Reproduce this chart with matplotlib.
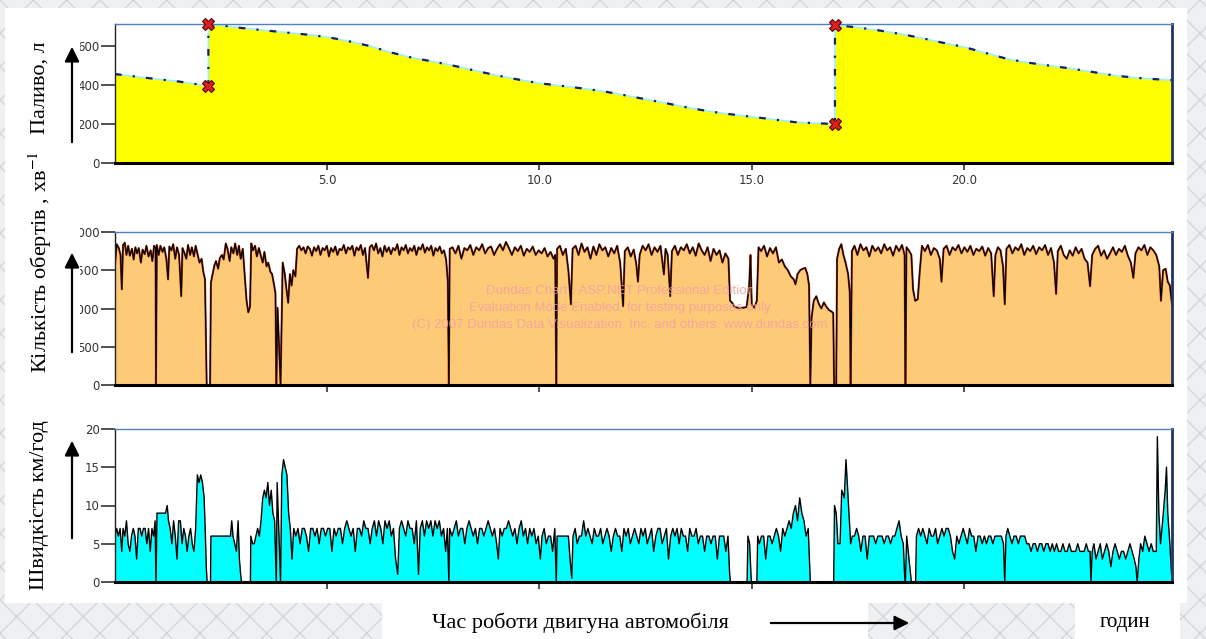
import matplotlib.pyplot as plt
import numpy as np
from matplotlib.patches import Rectangle, FancyArrowPatch
from matplotlib.transforms import Bbox

plt.rcParams['mathtext.fontset'] = 'stix'

# ---- data (hours) ----
fuel_hours = [0, 0.5, 1.0, 1.5, 2.0, 2.2, 2.2, 2.6, 3.0, 3.5, 4.0, 4.5, 5.0, 5.5, 6.0,
              6.5, 7.0, 7.5, 8.0, 8.5, 9.0, 9.5, 10.0, 10.5, 11.0, 11.5, 12.0, 12.5,
              13.0, 13.5, 14.0, 14.5, 15.0, 15.5, 16.0, 16.5, 16.96, 16.96, 17.5,
              18.0, 18.5, 19.0, 19.5, 20.0, 20.5, 21.0, 21.5, 22.0, 22.5, 23.0, 23.5,
              24.0, 24.5, 24.9]
fuel_litres = [456, 443, 430, 418, 402, 395, 713, 703, 692, 681, 670, 659, 646, 625, 600,
               567, 540, 520, 498, 473, 449, 428, 409, 396, 383, 368, 348, 327,
               306, 284, 265, 250, 237, 224, 210, 204, 200, 708, 695,
               680, 662, 641, 617, 595, 565, 535, 515, 500, 485, 468, 450,
               438, 430, 425]
refuel_hours = [2.2, 2.2, 16.96, 16.96]
refuel_litres = [395, 713, 200, 708]

rpm_hours = [
    0.00, 0.04, 0.09, 0.13, 0.16, 0.19, 0.23, 0.27, 0.31, 0.35, 0.40, 0.44, 0.48, 0.52,
    0.56, 0.61, 0.65, 0.70, 0.74, 0.79, 0.84, 0.88, 0.92, 0.955, 0.965, 0.985,
    1.03, 1.07, 1.12, 1.16, 1.21, 1.25, 1.28, 1.33, 1.37, 1.42, 1.46, 1.51, 1.56, 1.59,
    1.64, 1.68, 1.72, 1.77, 1.81, 1.86, 1.90, 1.95, 1.99, 2.04, 2.08, 2.12, 2.16, 2.24,
    2.26,
    2.30, 2.34, 2.38, 2.43, 2.47, 2.52, 2.56, 2.61, 2.65, 2.70, 2.74, 2.79, 2.83, 2.88,
    2.92, 2.96, 3.01, 3.06, 3.10, 3.14, 3.18, 3.21, 3.25, 3.30, 3.34, 3.39, 3.43, 3.48,
    3.52, 3.57, 3.61, 3.66, 3.70, 3.75, 3.78, 3.80, 3.83, 3.90, 3.95,
    4.00, 4.04, 4.08, 4.12, 4.16, 4.20, 4.25, 4.29, 4.34, 4.39, 4.44, 4.49, 4.54, 4.59,
    4.64, 4.69, 4.74, 4.79, 4.84, 4.89, 4.94, 4.99, 5.04, 5.09, 5.14, 5.19, 5.24, 5.29,
    5.34, 5.39, 5.44, 5.49, 5.54, 5.59, 5.64, 5.69, 5.74, 5.79, 5.84, 5.89, 5.96, 6.00,
    6.05, 6.10, 6.15, 6.20, 6.25, 6.30, 6.35, 6.40, 6.45, 6.50, 6.55, 6.60, 6.65, 6.70,
    6.75, 6.80, 6.85, 6.90, 6.95, 7.00, 7.05, 7.10, 7.15, 7.20, 7.25, 7.30, 7.35, 7.40,
    7.45, 7.50, 7.55, 7.60, 7.65, 7.70, 7.75, 7.80, 7.84, 7.865, 7.885,
    7.95, 8.02, 8.09, 8.16, 8.23, 8.30, 8.37, 8.44, 8.51, 8.58, 8.65, 8.72, 8.79, 8.86,
    8.93, 9.00, 9.07, 9.14, 9.21, 9.28, 9.35, 9.42, 9.49, 9.56, 9.63, 9.70, 9.77, 9.84,
    9.91, 9.98, 10.05, 10.12, 10.19, 10.26, 10.33, 10.37, 10.395, 10.415,
    10.48, 10.55, 10.62, 10.68, 10.74, 10.78, 10.85, 10.92, 10.99, 11.06, 11.13, 11.20,
    11.27, 11.34, 11.41, 11.48, 11.55, 11.62, 11.69, 11.76, 11.83, 11.90, 11.97, 12.01,
    12.08, 12.15, 12.22, 12.28, 12.32, 12.36, 12.43,
    12.50, 12.57, 12.64, 12.71, 12.78, 12.85, 12.93, 12.97, 13.02, 13.08, 13.12, 13.19,
    13.26, 13.33, 13.40, 13.47, 13.54, 13.61, 13.68, 13.75, 13.82, 13.89, 13.96, 14.03,
    14.10, 14.17, 14.24, 14.31, 14.38, 14.45, 14.49,
    14.53, 14.60, 14.67, 14.74, 14.81, 14.88, 14.94, 14.97, 15.00, 15.06, 15.12, 15.16,
    15.22, 15.29, 15.36, 15.43, 15.50, 15.57, 15.64, 15.71, 15.78, 15.85, 15.92, 15.99,
    16.03, 16.08, 16.14, 16.20, 16.26, 16.31, 16.35, 16.38, 16.41, 16.46, 16.52, 16.58,
    16.64, 16.70, 16.76, 16.82, 16.88, 16.92, 16.94, 16.99, 17.01, 17.06, 17.11, 17.16,
    17.21, 17.27, 17.31, 17.33, 17.36,
    17.42, 17.49, 17.56, 17.63, 17.70, 17.77, 17.84, 17.91, 17.98, 18.05, 18.12, 18.19,
    18.26, 18.33, 18.40, 18.47, 18.54, 18.60, 18.62, 18.645,
    18.70, 18.76, 18.80, 18.85, 18.91, 18.96, 19.01, 19.08, 19.15, 19.22, 19.29, 19.36,
    19.43, 19.47, 19.52, 19.59, 19.66, 19.73, 19.80, 19.87, 19.94, 20.01, 20.08, 20.15,
    20.22, 20.29, 20.36, 20.43, 20.50, 20.57, 20.64, 20.70, 20.74, 20.80, 20.86, 20.92,
    20.96, 21.00, 21.07, 21.14, 21.21, 21.28, 21.35, 21.42, 21.49, 21.56, 21.63, 21.70,
    21.77, 21.84, 21.91, 21.98, 22.05, 22.12, 22.17, 22.21, 22.28, 22.35, 22.42, 22.49,
    22.56, 22.63, 22.70, 22.77, 22.84, 22.91, 22.97, 23.02, 23.09, 23.16, 23.23, 23.30,
    23.37, 23.44, 23.51, 23.58, 23.65, 23.72, 23.79, 23.86, 23.93, 23.99, 24.04, 24.11,
    24.18, 24.25, 24.32, 24.39, 24.46, 24.53, 24.60, 24.64, 24.69, 24.75, 24.80, 24.85,
    24.90]
rpm_values = [
    1570, 1840, 1790, 1700, 1250, 1830, 1860, 1700, 1820, 1690, 1780, 1640, 1800, 1720,
    1790, 1600, 1770, 1710, 1820, 1680, 1760, 1620, 1820, 1790, 0, 1830,
    1700, 1820, 1740, 1800, 1650, 1380, 1810, 1760, 1840, 1650, 1800, 1700, 1160, 1790,
    1720, 1650, 1830, 1700, 1800, 1680, 1820, 1700, 1600, 1650, 1480, 1380, 0, 0,
    1340,
    1450, 1560, 1620, 1520, 1660, 1700, 1640, 1850, 1780, 1620, 1800, 1720, 1850, 1700,
    1820, 1650, 1780, 1400, 1100, 950, 1020, 1850, 1760, 1820, 1680, 1790, 1700, 1600,
    1740, 1550, 1600, 1480, 1450, 1300, 1200, 0, 1010, 0, 1600,
    1450, 1250, 1075, 1450, 1300, 1500, 1420, 1780, 1820, 1760, 1800, 1720, 1810, 1780,
    1690, 1800, 1750, 1820, 1700, 1790, 1760, 1820, 1680, 1790, 1740, 1810, 1700, 1780,
    1760, 1830, 1720, 1800, 1770, 1820, 1690, 1800, 1760, 1830, 1700, 1790, 1400, 1800,
    1830, 1760, 1850, 1720, 1790, 1680, 1820, 1740, 1800, 1710, 1790, 1760, 1840, 1700,
    1800, 1760, 1830, 1720, 1790, 1750, 1820, 1700, 1800, 1770, 1840, 1730, 1800, 1760,
    1820, 1690, 1790, 1750, 1810, 1720, 1760, 1640, 1360, 0, 1780,
    1800, 1720, 1820, 1650, 1790, 1760, 1830, 1700, 1800, 1760, 1840, 1720, 1790, 1810,
    1700, 1780, 1840, 1760, 1870, 1790, 1700, 1800, 1750, 1820, 1690, 1780, 1740, 1810,
    1700, 1760, 1720, 1790, 1680, 1740, 1650, 1700, 0, 1780,
    1820, 1700, 1780, 1500, 1055, 1780, 1820, 1700, 1850, 1740, 1800, 1650,
    1810, 1700, 1840, 1760, 1800, 1680, 1790, 1720, 1820, 1600, 1030, 1750,
    1800, 1680, 1770, 1580, 1350, 1700, 1820,
    1760, 1840, 1700, 1800, 1740, 1820, 1445, 1780, 1700, 1160, 1750, 1820,
    1700, 1800, 1760, 1840, 1720, 1800, 1690, 1850, 1760, 1700, 1800, 1620,
    1780, 1700, 1760, 1600, 1720, 1650, 1100,
    1080, 1020, 1010, 1010, 1010, 1020, 1300, 1700, 1050, 1010, 1100, 1800,
    1750, 1820, 1680, 1790, 1720, 1800, 1600, 1640, 1550, 1500, 1420, 1380,
    1315, 1450, 1500, 1520, 1530, 1450, 1300, 0, 880, 1100, 1160, 1060,
    1000, 1080, 1020, 980, 960, 940, 0, 0, 1650, 1780, 1840, 1700,
    1600, 1450, 1200, 0, 1750,
    1820, 1700, 1840, 1760, 1800, 1680, 1820, 1750, 1800, 1720, 1840, 1760,
    1800, 1690, 1820, 1750, 1830, 1700, 0, 1800,
    1760, 1700, 1250, 1100, 1120, 1500, 1820, 1750, 1830, 1700, 1790, 1760,
    1650, 1350, 1780, 1820, 1700, 1800, 1760, 1830, 1720, 1800, 1740, 1820,
    1700, 1780, 1750, 1810, 1690, 1790, 1720, 1160, 1700, 1800, 1760, 1550,
    1055, 1780, 1830, 1720, 1800, 1760, 1840, 1700, 1790, 1750, 1820, 1710,
    1800, 1760, 1830, 1700, 1790, 1600, 1190, 1750, 1820, 1700, 1650, 1760,
    1690, 1800, 1720, 1780, 1650, 1600, 1290, 1700, 1780, 1820, 1690, 1760,
    1650, 1720, 1800, 1700, 1780, 1740, 1820, 1690, 1600, 1400, 1720, 1800,
    1760, 1830, 1700, 1800, 1760, 1700, 1550, 1100, 1500, 1520, 1350, 1300,
    1050]

speed_hours = [
    0.00, 0.04, 0.08, 0.12, 0.16, 0.19, 0.23, 0.27, 0.31, 0.35, 0.39, 0.43, 0.47, 0.51,
    0.55, 0.59, 0.63, 0.67, 0.71, 0.75, 0.79, 0.83, 0.87, 0.91, 0.945, 0.965, 0.99,
    1.05, 1.12, 1.19, 1.23, 1.26, 1.30, 1.34, 1.38, 1.42, 1.46, 1.50, 1.54, 1.58, 1.62,
    1.66, 1.70, 1.74, 1.78, 1.82, 1.86, 1.90, 1.94, 1.98, 2.02, 2.06, 2.10, 2.13, 2.15,
    2.17, 2.25, 2.26, 2.72, 2.75, 2.78, 2.82, 2.86, 2.90, 2.93, 2.96, 2.98, 3.19, 3.20,
    3.24, 3.28, 3.32, 3.36, 3.40, 3.44, 3.48, 3.52, 3.56, 3.60, 3.64, 3.68, 3.72, 3.76,
    3.80, 3.82, 3.90, 3.93, 3.97, 4.01, 4.05, 4.09, 4.13, 4.17,
    4.21, 4.26, 4.31, 4.36, 4.41, 4.46, 4.51, 4.56, 4.61, 4.66, 4.71, 4.76, 4.81, 4.86,
    4.91, 4.96, 5.01, 5.06, 5.11, 5.16, 5.21, 5.26, 5.31, 5.36, 5.41, 5.46, 5.51, 5.56,
    5.61, 5.66, 5.71, 5.76, 5.81, 5.86, 5.91, 5.96, 6.01, 6.06, 6.11, 6.16, 6.21, 6.26,
    6.31, 6.36, 6.41, 6.46, 6.51, 6.56, 6.61, 6.66, 6.70, 6.75, 6.80, 6.85, 6.90, 6.95,
    7.00, 7.05, 7.10, 7.15, 7.19, 7.24, 7.29, 7.34, 7.39, 7.44, 7.49, 7.54, 7.59, 7.64,
    7.69, 7.74, 7.79, 7.83, 7.865, 7.885,
    7.94, 7.99, 8.04, 8.09, 8.14, 8.19, 8.24, 8.29, 8.34, 8.39, 8.44, 8.49, 8.54, 8.59,
    8.64, 8.69, 8.74, 8.79, 8.84, 8.89, 8.94, 8.99, 9.03, 9.07, 9.12, 9.17, 9.22, 9.27,
    9.32, 9.37, 9.42, 9.47, 9.52, 9.57, 9.62, 9.67, 9.72, 9.77, 9.82, 9.87, 9.92, 9.97,
    10.02, 10.06, 10.11, 10.16, 10.21, 10.26, 10.31, 10.36, 10.395, 10.415,
    10.68, 10.72, 10.76, 10.79, 10.84, 10.89, 10.94, 10.99, 11.04, 11.09, 11.14, 11.19,
    11.24, 11.29, 11.34, 11.39, 11.44, 11.49, 11.54, 11.59, 11.64, 11.69, 11.74, 11.79,
    11.84, 11.89, 11.94, 11.99, 12.04, 12.09, 12.14, 12.19, 12.24, 12.29, 12.34, 12.39,
    12.44, 12.49, 12.54, 12.59, 12.64, 12.69, 12.74, 12.79, 12.84, 12.89, 12.94, 12.99,
    13.04, 13.09, 13.14, 13.19, 13.24, 13.29, 13.34, 13.39, 13.44, 13.49, 13.54, 13.59,
    13.64, 13.69, 13.74, 13.79, 13.84, 13.89, 13.94, 13.99, 14.04, 14.09, 14.14, 14.19,
    14.24, 14.29, 14.34, 14.39, 14.44, 14.48, 14.50, 14.89, 14.91, 14.95, 14.99, 15.12,
    15.14,
    15.18, 15.23, 15.28, 15.33, 15.38, 15.43, 15.48, 15.53, 15.58, 15.63, 15.68, 15.73,
    15.78, 15.83, 15.88, 15.93, 15.98, 16.03, 16.08, 16.13, 16.18, 16.23, 16.28, 16.33,
    16.38, 16.93, 16.95, 16.99, 17.03, 17.08, 17.12, 17.18, 17.22, 17.26, 17.30, 17.33,
    17.37, 17.42, 17.47, 17.52, 17.57, 17.62, 17.67, 17.72, 17.77, 17.82, 17.87, 17.92,
    17.97, 18.02, 18.07, 18.12, 18.17, 18.22, 18.27, 18.32, 18.37, 18.42, 18.47, 18.52,
    18.57, 18.60, 18.62, 18.65, 18.76, 18.86, 18.88,
    18.93, 18.98, 19.03, 19.08, 19.13, 19.18, 19.23, 19.28, 19.33, 19.38, 19.43, 19.48,
    19.53, 19.58, 19.63, 19.68, 19.73, 19.78, 19.83, 19.88, 19.93, 19.98, 20.03, 20.08,
    20.13, 20.18, 20.23, 20.28, 20.33, 20.38, 20.43, 20.48, 20.53, 20.58, 20.63, 20.68,
    20.73, 20.78, 20.83, 20.88, 20.93, 20.96, 20.99,
    21.03, 21.08, 21.13, 21.18, 21.23, 21.28, 21.33, 21.38, 21.43, 21.48, 21.53, 21.58,
    21.63, 21.68, 21.73, 21.78, 21.83, 21.88, 21.93, 21.98, 22.03, 22.08, 22.13, 22.18,
    22.23, 22.28, 22.33, 22.38, 22.43, 22.48, 22.53, 22.58, 22.63, 22.68, 22.73, 22.78,
    22.83, 22.88, 22.93, 22.97, 22.99, 23.02, 23.06, 23.11, 23.16, 23.21, 23.26, 23.31,
    23.36, 23.41, 23.46, 23.51, 23.56, 23.61, 23.66, 23.71, 23.76, 23.81, 23.86, 23.91,
    23.96, 24.01, 24.05, 24.08, 24.12, 24.16, 24.21, 24.26, 24.31, 24.36, 24.41, 24.46,
    24.50, 24.53, 24.555, 24.59, 24.63, 24.68, 24.74, 24.77, 24.80, 24.85, 24.89]
speed_values = [
    6, 7, 6, 7, 4, 7, 6, 8, 5, 4, 6, 7, 6, 3,
    7, 7, 6, 7, 7, 5, 7, 4, 7, 6, 8, 0, 9,
    9, 9, 9, 10, 8, 7, 5, 8, 6, 3, 8, 8, 5, 7,
    6, 4, 6, 7, 5, 4, 7, 14, 13, 14, 13, 11, 6, 2,
    0, 0, 6, 6, 8, 6, 5, 4, 8, 3, 1, 0, 0, 6,
    5, 5, 6, 7, 6, 8, 11, 12, 11, 13, 10, 12, 9, 8,
    0, 13, 0, 14, 16, 15, 14, 9, 7, 3,
    7, 6, 7, 5, 7, 7, 6, 4, 7, 7, 6, 7, 5, 7,
    7, 6, 7, 7, 4, 7, 6, 7, 7, 5, 7, 8, 7, 6,
    7, 4, 7, 7, 6, 8, 7, 7, 5, 7, 8, 6, 8, 7,
    5, 8, 7, 8, 6, 7, 3, 1, 7, 8, 7, 6, 8, 7,
    7, 5, 8, 1, 7, 8, 6, 8, 7, 8, 6, 8, 7, 8,
    6, 7, 4, 7, 0, 7,
    6, 7, 8, 6, 7, 7, 5, 7, 8, 7, 6, 7, 5, 7,
    7, 6, 7, 8, 7, 6, 7, 5, 3, 7, 6, 7, 7, 8,
    7, 6, 7, 5, 7, 8, 6, 7, 5, 7, 6, 7, 5, 6,
    3, 6, 7, 5, 6, 6, 4, 7, 0, 6,
    6, 3, 0.5, 6, 7, 5, 6, 6, 8, 6, 7, 6,
    5, 7, 6, 6, 7, 5, 6, 7, 6, 4, 6, 7,
    6, 6, 4, 7, 6, 7, 5, 6, 7, 6, 5, 7,
    6, 7, 5, 6, 7, 4, 6, 7, 7, 5, 6, 7,
    3, 6, 7, 6, 7, 5, 7, 6, 6, 4, 7, 6,
    6, 7, 5, 6, 6, 4, 6, 6, 5, 6, 6, 3,
    6, 6, 6, 4, 6, 1, 0, 0, 6, 5, 0, 0,
    6,
    5, 6, 6, 3, 6, 6, 5, 6, 7, 6, 4, 7,
    6, 7, 8, 7, 9, 10, 8, 11, 9, 8, 6, 7,
    0, 0, 10, 9, 5, 5, 12, 11, 16, 12, 8, 5,
    6, 6, 7, 6, 4, 6, 6, 3, 6, 6, 6, 5,
    6, 6, 6, 5, 6, 6, 5, 6, 6, 7, 8, 6,
    5, 1, 0, 6, 0, 0, 6,
    7, 6, 7, 6, 5, 7, 6, 6, 7, 5, 6, 7,
    6, 7, 7, 6, 4, 3, 6, 5, 6, 7, 6, 5,
    7, 6, 6, 4, 6, 6, 5, 6, 5, 6, 6, 5,
    6, 6, 6, 6, 5, 0, 6,
    7, 6, 5, 6, 6, 5, 6, 6, 6, 5, 5, 4,
    5, 5, 4, 5, 5, 4, 5, 5, 4, 5, 4, 5,
    4, 4, 5, 4, 4, 5, 4, 4, 4, 5, 4, 4,
    4, 5, 4, 4, 0, 4, 5, 3, 4, 5, 3, 4,
    5, 4, 2, 4, 5, 4, 3, 4, 4, 3, 4, 5,
    4, 3, 2, 0, 3, 5, 4, 6, 5, 4, 5, 4,
    4, 4, 19, 9, 5, 8, 12, 15, 9, 5, 1]

x_ticks = [5, 10, 15, 20]
x_tick_labels = ['5.0', '10.0', '15.0', '20.0']
fuel_ticks = [0, 200, 400, 600]
rpm_ticks = [0, 500, 1000, 1500, 2000]
speed_ticks = [0, 5, 10, 15, 20]

W, H = 1206, 639
fig = plt.figure(figsize=(W / 100, H / 100), dpi=100)
fig.patch.set_facecolor('#e8ebee')

# textured background + white sheets
fig.patches.append(Rectangle((0, 0), 1, 1, transform=fig.transFigure, facecolor='#eef0f2',
                             edgecolor='#d3d7dc', hatch='x', lw=0, zorder=-10))


def px_rect(l, t, r, b, **kw):
    fig.patches.append(Rectangle((l / W, 1 - b / H), (r - l) / W, (b - t) / H,
                                 transform=fig.transFigure, lw=0, zorder=-5, **kw))


px_rect(5, 8, 1187, 603, facecolor='white')
px_rect(382, 603, 868, 639, facecolor='white')
px_rect(1075, 603, 1180, 639, facecolor='white')


def px_axes(l, t, r, b):
    return fig.add_axes([l / W, 1 - b / H, (r - l) / W, (b - t) / H])


clip = Bbox.from_extents(80, 0, W, H)


def style(ax, yticks, ymax, xlabels):
    ax.set_xlim(0, 24.9)
    ax.set_ylim(0, ymax)
    ax.set_xticks(x_ticks)
    ax.set_xticklabels(x_tick_labels if xlabels else [])
    ax.set_yticks(yticks)
    ax.set_yticklabels([str(v) for v in yticks])
    ax.tick_params(axis='y', direction='out', length=10, width=1.2, pad=1,
                   labelsize=8.5, labelcolor='#333333', color='#333333')
    ax.tick_params(axis='x', direction='out', length=5, width=1.2, pad=3,
                   labelsize=8.5, labelcolor='#333333', color='#333333')
    ax.spines['top'].set_color('#4f81bd')
    ax.spines['top'].set_linewidth(1)
    ax.spines['right'].set_color('#1f3466')
    ax.spines['right'].set_linewidth(2)
    ax.spines['bottom'].set_color('black')
    ax.spines['bottom'].set_linewidth(2.2)
    ax.spines['left'].set_color('#222222')
    ax.spines['left'].set_linewidth(1)
    for lab in ax.get_yticklabels():
        lab.set_clip_on(True)
        lab.set_clip_box(clip)


# Fuel
ax1 = px_axes(115, 24, 1172, 163)
ax1.fill_between(fuel_hours, fuel_litres, color='#ffff00', lw=0)
ax1.plot(fuel_hours, fuel_litres, color='#9ff0f5', lw=1.2)
ax1.plot(fuel_hours, fuel_litres, color='#1c1c6e', lw=1.6, ls=(0, (3, 5, 1, 5)))
ax1.plot(refuel_hours, refuel_litres, ls='none', marker='X', ms=8, mfc='#e02020',
         mec='#5a0000', mew=0.8, clip_on=False, zorder=5)
style(ax1, fuel_ticks, 713, True)

# RPM
ax2 = px_axes(115, 232, 1172, 385)
ax2.fill_between(rpm_hours, rpm_values, color='#fdcb78', lw=0)
ax2.plot(rpm_hours, rpm_values, color='#c0400a', lw=1.5)
ax2.plot(rpm_hours, rpm_values, color='black', lw=0.9)
style(ax2, rpm_ticks, 2000, False)

# Speed
ax3 = px_axes(115, 429, 1172, 582)
ax3.fill_between(speed_hours, speed_values, color='#00ffff', lw=0)
ax3.plot(speed_hours, speed_values, color='black', lw=1.0)
style(ax3, speed_ticks, 20, False)

# watermark
for i, line in enumerate(['Dundas Chart - ASP.NET Professional Edition',
                          'Evaluation Mode Enabled, for testing purposes only',
                          '(C) 2007 Dundas Data Visualization, Inc. and others, www.dundas.com']):
    fig.text(620 / W, 1 - (291 + 17 * i) / H, line, ha='center', va='center', fontsize=9.5,
             color='#f2a0a0', alpha=0.85, family=['Liberation Sans Narrow', 'Liberation Sans'])

serif = 'Liberation Serif'
fig.text(40 / W, 1 - 88 / H, 'Паливо, л', rotation=90, ha='center', va='center',
         fontsize=16, family=serif)
fig.text(40 / W, 1 - 262 / H, 'Кількість обертів , хв$^{-1}$', rotation=90, ha='center',
         va='center', fontsize=16, family=serif)
fig.text(40 / W, 1 - 505 / H, 'Швидкість км/год', rotation=90, ha='center', va='center',
         fontsize=16, family=serif)
fig.text(580 / W, 1 - 623 / H, 'Час роботи двигуна автомобіля', ha='center', va='center',
         fontsize=16, family=serif)
fig.text(1125 / W, 1 - 623 / H, 'годин', ha='center', va='center', fontsize=15, family=serif)


def arrow(x0, y0, x1, y1):
    fig.add_artist(FancyArrowPatch((x0 / W, 1 - y0 / H), (x1 / W, 1 - y1 / H),
                                   transform=fig.transFigure, arrowstyle='-|>',
                                   mutation_scale=22, lw=1.6, color='black'))


arrow(72, 145, 72, 44)
arrow(72, 355, 72, 250)
arrow(72, 541, 72, 438)
arrow(768, 623, 912, 623)

fig.savefig('out.png', dpi=100, facecolor=fig.get_facecolor())
